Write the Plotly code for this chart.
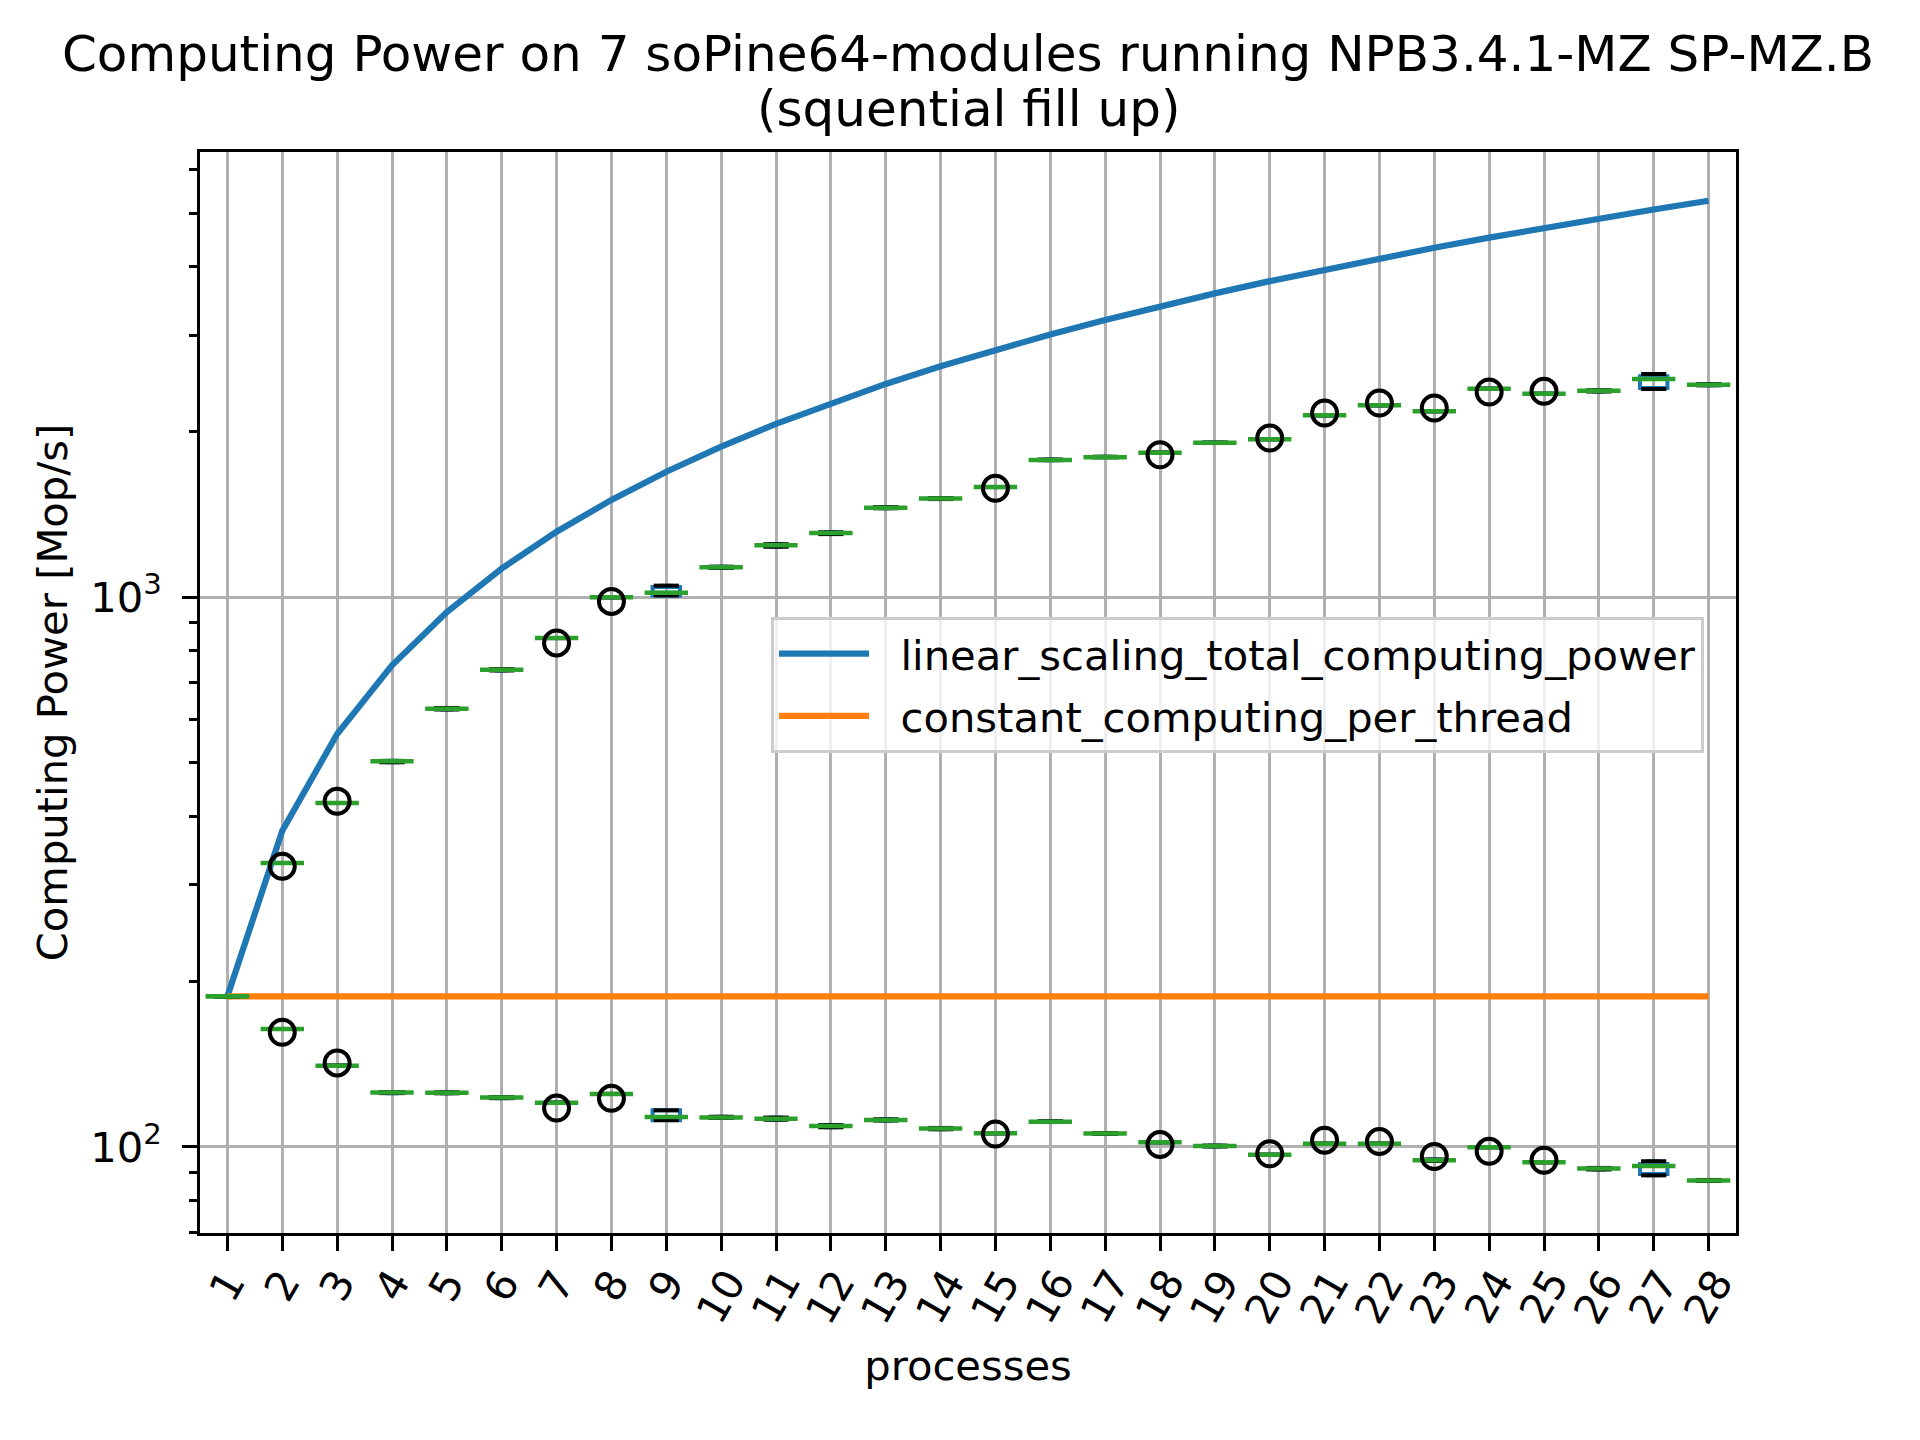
import plotly.graph_objects as go

# ---------------- data ----------------
processes = [1, 2, 3, 4, 5, 6, 7, 8, 9, 10, 11, 12, 13, 14,
             15, 16, 17, 18, 19, 20, 21, 22, 23, 24, 25, 26, 27, 28]

linear_scaling_total_computing_power = [
    188, 376, 564, 752, 940, 1128, 1316, 1504, 1692, 1880, 2068, 2256, 2444, 2632,
    2820, 3008, 3196, 3384, 3572, 3760, 3948, 4136, 4324, 4512, 4700, 4888, 5076, 5264]
constant_computing_per_thread = [
    188, 188, 188, 188, 188, 188, 188, 188, 188, 188, 188, 188, 188, 188,
    188, 188, 188, 188, 188, 188, 188, 188, 188, 188, 188, 188, 188, 188]

# total computing power boxes
total_median = [188, 328.6, 422.5, 503, 627, 738, 843, 1000, 1019.5, 1134, 1243, 1309, 1455, 1512,
                1587, 1778, 1798, 1833, 1910, 1939, 2143, 2235, 2180, 2396, 2346, 2376, 2495, 2436]
total_q1 = [188, 328.6, 422.5, 503, 627, 738, 843, 1000, 1008, 1134, 1243, 1309, 1455, 1512,
            1587, 1778, 1798, 1833, 1910, 1939, 2143, 2235, 2180, 2396, 2346, 2376, 2403, 2436]
total_q3 = [188, 328.6, 422.5, 503, 627, 738, 843, 1000, 1044, 1134, 1243, 1309, 1455, 1512,
            1587, 1778, 1798, 1833, 1910, 1939, 2143, 2235, 2180, 2396, 2346, 2376, 2523, 2436]
total_lo = [188, 328.6, 422.5, 501, 625, 736, 843, 1000, 1008, 1131, 1236, 1303, 1452, 1509,
            1587, 1776, 1798, 1833, 1908, 1939, 2143, 2235, 2180, 2396, 2346, 2368, 2393, 2430]
total_hi = [188, 328.6, 422.5, 504, 629, 740, 843, 1000, 1050, 1137, 1249, 1313, 1459, 1516,
            1587, 1781, 1802, 1833, 1913, 1939, 2143, 2235, 2180, 2396, 2346, 2380, 2548, 2442]
total_flier_x = [2, 3, 7, 8, 15, 18, 20, 21, 22, 23, 24, 25]
total_flier_y = [324, 425.5, 826, 983, 1579, 1817, 1948, 2164, 2257, 2210, 2363, 2370]

# computing power per thread boxes
thread_median = [188, 163.9, 140.6, 125.6, 125.5, 123.0, 120.4, 124.9, 113.4, 113.2, 112.6, 109.2, 112.0, 108.0,
                 105.9, 111.2, 105.8, 102.0, 100.4, 96.8, 101.4, 101.4, 94.6, 99.9, 93.8, 91.4, 92.3, 86.9]
thread_q1 = [188, 163.9, 140.6, 125.6, 125.5, 123.0, 120.4, 124.9, 111.9, 113.2, 112.6, 109.2, 112.0, 108.0,
             105.9, 111.2, 105.8, 102.0, 100.4, 96.8, 101.4, 101.4, 94.6, 99.9, 93.8, 91.4, 89.3, 86.9]
thread_q3 = [188, 163.9, 140.6, 125.6, 125.5, 123.0, 120.4, 124.9, 116.6, 113.2, 112.6, 109.2, 112.0, 108.0,
             105.9, 111.2, 105.8, 102.0, 100.4, 96.8, 101.4, 101.4, 94.6, 99.9, 93.8, 91.4, 93.1, 86.9]
thread_lo = [188, 163.9, 140.6, 125.3, 125.2, 122.7, 120.4, 124.9, 111.9, 112.9, 112.1, 108.6, 111.7, 107.7,
             105.9, 111.0, 105.6, 102.0, 100.2, 96.8, 101.4, 101.4, 94.3, 99.9, 93.8, 91.0, 88.8, 86.7]
thread_hi = [188, 163.9, 140.6, 125.8, 125.7, 123.2, 120.4, 124.9, 116.6, 113.5, 113.1, 109.6, 112.3, 108.3,
             105.9, 111.4, 106.0, 102.0, 100.6, 96.8, 101.4, 101.4, 94.9, 99.9, 93.8, 91.6, 94.2, 87.1]
thread_flier_x = [2, 3, 7, 8, 15, 18, 20, 21, 22, 23, 24, 25]
thread_flier_y = [161.7, 142.2, 117.7, 122.6, 105.6, 101.0, 97.2, 102.9, 102.3, 96.1, 98.2, 94.6]

x_tick_labels = ["1", "2", "3", "4", "5", "6", "7", "8", "9", "10", "11", "12", "13", "14",
                 "15", "16", "17", "18", "19", "20", "21", "22", "23", "24", "25", "26", "27", "28"]
y_tick_vals = [100, 1000]
y_tick_text = ["10<sup>2</sup>", "10<sup>3</sup>"]
y_minor_vals = [70, 80, 90, 200, 300, 400, 500, 600, 700, 800, 900,
                2000, 3000, 4000, 5000, 6000]

# ---------------- styling / layout constants ----------------
BLUE, ORANGE, GREEN = "#1f77b4", "#ff7f0e", "#2ca02c"
FONT = "DejaVu Sans"
W_FIG, H_FIG = 1920, 1440
L, R, T, B = 192, 1728, 144, 1225
PW, PH = R - L, B - T
GAP = "\u00a0\u00a0"


def px_x(x):
    return (x - L) / PW


def px_y(y):
    return (B - y) / PH


fig = go.Figure()

# lines (legend entries)
fig.add_trace(go.Scatter(x=processes, y=linear_scaling_total_computing_power, mode="lines",
                         name=GAP + "linear_scaling_total_computing_power",
                         line=dict(color=BLUE, width=6.2), legendgroup="a"))
fig.add_trace(go.Scatter(x=processes, y=constant_computing_per_thread, mode="lines",
                         name=GAP + "constant_computing_per_thread",
                         line=dict(color=ORANGE, width=6.2), legendgroup="b"))

# boxes
for q1, med, q3, lo, hi in [(total_q1, total_median, total_q3, total_lo, total_hi),
                            (thread_q1, thread_median, thread_q3, thread_lo, thread_hi)]:
    fig.add_trace(go.Box(x=processes, q1=q1, median=med, q3=q3,
                         lowerfence=lo, upperfence=hi, width=0.5, whiskerwidth=0.5,
                         boxpoints=False, line=dict(color=BLUE, width=4),
                         fillcolor="rgba(0,0,0,0)", showlegend=False, hoverinfo="skip"))

# caps (black)
for arr in [total_lo, total_hi, thread_lo, thread_hi]:
    fig.add_trace(go.Scatter(x=processes, y=arr, mode="markers", showlegend=False, hoverinfo="skip",
                             marker=dict(symbol="line-ew", size=18,
                                         line=dict(color="black", width=4))))

# medians (green)
for arr in [total_median, thread_median]:
    fig.add_trace(go.Scatter(x=processes, y=arr, mode="markers", showlegend=False, hoverinfo="skip",
                             marker=dict(symbol="line-ew", size=31,
                                         line=dict(color=GREEN, width=4.5))))

# fliers
for fx, fy in [(total_flier_x, total_flier_y), (thread_flier_x, thread_flier_y)]:
    fig.add_trace(go.Scatter(x=fx, y=fy, mode="markers", showlegend=False, hoverinfo="skip",
                             marker=dict(symbol="circle-open", size=25,
                                         line=dict(color="black", width=4), color="black")))

annotations = [
    dict(text="(squential fill up)",
         x=0.5, y=px_y(101), xref="paper", yref="paper", xanchor="center", yanchor="middle",
         showarrow=False, font=dict(family=FONT, size=50, color="black")),
]
for xv, lab in zip(processes, x_tick_labels):
    annotations.append(dict(text=lab, x=xv, y=px_y(1251), xref="x", yref="paper",
                            xanchor="center", yanchor="top", textangle=-60, showarrow=False,
                            font=dict(family=FONT, size=41.7, color="black")))

fig.update_layout(
    width=W_FIG, height=H_FIG,
    margin=dict(l=L, r=W_FIG - R, t=T, b=H_FIG - B, autoexpand=False),
    paper_bgcolor="white", plot_bgcolor="white",
    font=dict(family=FONT, size=41.7, color="black"),
    title=dict(text="Computing Power on 7 soPine64-modules running NPB3.4.1-MZ SP-MZ.B",
               x=0.5, xanchor="center", xref="paper",
               y=1 - 45 / H_FIG, yref="container", yanchor="middle",
               font=dict(family=FONT, size=50, color="black")),
    boxmode="overlay",
    showlegend=True,
    legend=dict(x=px_x(763), y=px_y(609), xanchor="left", yanchor="top",
                bgcolor="rgba(255,255,255,0.8)", bordercolor="#cccccc", borderwidth=3,
                font=dict(family=FONT, size=41.7, color="black"),
                tracegroupgap=5, itemwidth=90),
    annotations=annotations,
)

fig.update_xaxes(range=[0.5, 28.5], tickmode="array", tickvals=processes, showticklabels=False,
                 ticks="outside", ticklen=14.6, tickwidth=3.3, tickcolor="black",
                 title=dict(text="processes", standoff=102,
                            font=dict(family=FONT, size=41.7, color="black")),
                 showgrid=True, gridcolor="#b0b0b0", gridwidth=3.3, zeroline=False,
                 showline=True, linecolor="black", linewidth=3.3, mirror=True)
fig.update_yaxes(type="log", range=[1.8435, 3.8101], tickmode="array",
                 tickvals=y_tick_vals, ticktext=y_tick_text,
                 ticks="outside", ticklen=14.6, tickwidth=3.3, tickcolor="black",
                 ticklabelstandoff=12, tickfont=dict(family=FONT, size=41.7, color="black"),
                 title=dict(text="Computing Power [Mop/s]", standoff=10,
                            font=dict(family=FONT, size=41.7, color="black")),
                 showgrid=True, gridcolor="#b0b0b0", gridwidth=3.3, zeroline=False,
                 showline=True, linecolor="black", linewidth=3.3, mirror=True,
                 minor=dict(tickmode="array", tickvals=y_minor_vals, ticks="outside",
                            ticklen=8.3, tickwidth=2.5, tickcolor="black", showgrid=False))

fig.write_html("out.html")
